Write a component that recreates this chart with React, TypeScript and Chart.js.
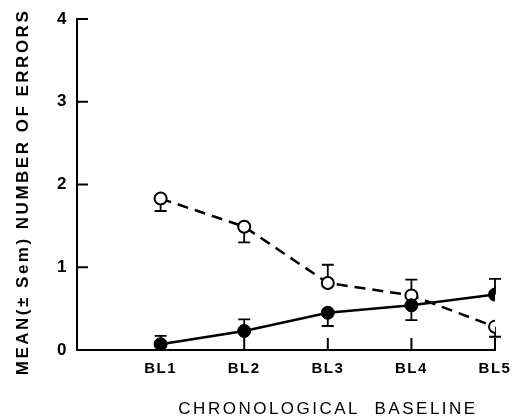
import React, { useEffect, useRef } from "react";
import { Chart, registerables } from "chart.js";

Chart.register(...registerables);

const categories = ["BL1", "BL2", "BL3", "BL4", "BL5"];
const xPositions = [1, 2, 3, 4, 5];
const yTicks = [0, 1, 2, 3, 4];

const filledMean = [0.07, 0.23, 0.45, 0.54, 0.67];
const filledSem = [0.1, 0.14, 0.16, 0.18, 0.19];
const filledDir = [1, 1, -1, -1, 1];

const openMean = [1.83, 1.49, 0.81, 0.66, 0.28];
const openSem = [0.15, 0.19, 0.22, 0.19, 0.12];
const openDir = [-1, -1, 1, 1, -1];

const yTitle = "MEAN(± Sem) NUMBER OF ERRORS";
const xTitle = "CHRONOLOGICAL  BASELINE";

const FONT = "'Liberation Sans', Arial, sans-serif";

export default function App() {
  const ref = useRef<HTMLCanvasElement | null>(null);

  useEffect(() => {
    document.body.style.margin = "0";
    const canvas = ref.current;
    if (!canvas) return;

    const errorBars = {
      id: "errorBars",
      beforeDatasetsDraw(chart: any) {
        const ctx = chart.ctx;
        ctx.letterSpacing = "0px";
        const xs = chart.scales.x;
        const ys = chart.scales.y;
        const series = [
          { m: filledMean, s: filledSem, d: filledDir },
          { m: openMean, s: openSem, d: openDir },
        ];
        ctx.save();
        ctx.strokeStyle = "#000";
        ctx.lineWidth = 1.8;
        series.forEach(({ m, s, d }) => {
          m.forEach((v, i) => {
            const px = xs.getPixelForValue(xPositions[i]);
            const p0 = ys.getPixelForValue(v);
            const p1 = ys.getPixelForValue(v + s[i] * d[i]);
            ctx.beginPath();
            ctx.moveTo(px, p0);
            ctx.lineTo(px, p1);
            ctx.moveTo(px - 6, p1);
            ctx.lineTo(px + 6, p1);
            ctx.stroke();
          });
        });
        // inward tick marks
        ctx.lineWidth = 2;
        yTicks.forEach((t) => {
          if (t === 0) return;
          const py = ys.getPixelForValue(t);
          ctx.beginPath();
          ctx.moveTo(xs.left, py);
          ctx.lineTo(xs.left + 11, py);
          ctx.stroke();
        });
        xPositions.forEach((t) => {
          const px = xs.getPixelForValue(t);
          ctx.beginPath();
          ctx.moveTo(px, ys.bottom);
          ctx.lineTo(px, ys.bottom - 12);
          ctx.stroke();
        });
        ctx.restore();
      },
    };

    const spacing = {
      id: "spacing",
      beforeDraw(chart: any) {
        chart.ctx.letterSpacing = "1.5px";
      },
      afterDraw(chart: any) {
        const ctx = chart.ctx;
        ctx.save();
        ctx.fillStyle = "#000";
        ctx.textAlign = "center";
        ctx.textBaseline = "middle";
        ctx.letterSpacing = "2.5px";
        ctx.font = `bold 17px ${FONT}`;
        ctx.translate(23, 192);
        ctx.rotate(-Math.PI / 2);
        ctx.fillText(yTitle, 0, 0);
        ctx.restore();
        ctx.save();
        ctx.fillStyle = "#000";
        ctx.textAlign = "center";
        ctx.textBaseline = "middle";
        ctx.letterSpacing = "2.5px";
        ctx.font = `17px ${FONT}`;
        ctx.fillText(xTitle, 328, 409);
        ctx.restore();
        ctx.letterSpacing = "0px";
      },
    };

    const chart = new Chart(canvas, {
      type: "line",
      data: {
        datasets: [
          {
            label: "filled",
            data: filledMean.map((v, i) => ({ x: xPositions[i], y: v })),
            borderColor: "#000",
            borderWidth: 2.5,
            pointRadius: 6.5,
            pointBackgroundColor: "#000",
            pointBorderColor: "#000",
            pointBorderWidth: 1,
            tension: 0,
          },
          {
            label: "open",
            data: openMean.map((v, i) => ({ x: xPositions[i], y: v })),
            borderColor: "#000",
            borderWidth: 2.5,
            borderDash: [11, 7],
            pointRadius: 6,
            pointBackgroundColor: "#fff",
            pointBorderColor: "#000",
            pointBorderWidth: 2,
            tension: 0,
          },
        ],
      },
      options: {
        responsive: false,
        animation: false,
        layout: { padding: { top: 19, right: 17, left: 0, bottom: 0 } },
        plugins: {
          legend: { display: false },
          tooltip: { enabled: false },
        },
        scales: {
          x: {
            type: "linear",
            min: 0,
            max: 5,
            afterBuildTicks(scale: any) {
              scale.ticks = xPositions.map((v) => ({ value: v }));
            },
            afterFit(scale: any) {
              scale.height = 69;
              scale.paddingLeft = 0;
              scale.paddingRight = 0;
            },
            ticks: {
              color: "#000",
              font: { family: FONT, size: 15, weight: "bold" },
              padding: 10,
              maxRotation: 0,
              autoSkip: false,
              callback: (v: any) => categories[xPositions.indexOf(Number(v))] ?? "",
            },
            grid: { display: false, drawTicks: false },
            border: { display: true, color: "#000", width: 2 },
          },
          y: {
            type: "linear",
            min: 0,
            max: 4,
            afterBuildTicks(scale: any) {
              scale.ticks = yTicks.map((v) => ({ value: v }));
            },
            afterFit(scale: any) {
              scale.width = 77;
              scale.paddingTop = 0;
              scale.paddingBottom = 0;
            },
            ticks: {
              color: "#000",
              font: { family: FONT, size: 17, weight: "bold" },
              padding: 9,
            },
            grid: { display: false, drawTicks: false },
            border: { display: true, color: "#000", width: 2 },
          },
        },
      },
      plugins: [spacing, errorBars],
    } as any);

    return () => chart.destroy();
  }, []);

  return (
    <div style={{ width: 512, height: 419 }}>
      <canvas ref={ref} width={512} height={419} />
    </div>
  );
}
